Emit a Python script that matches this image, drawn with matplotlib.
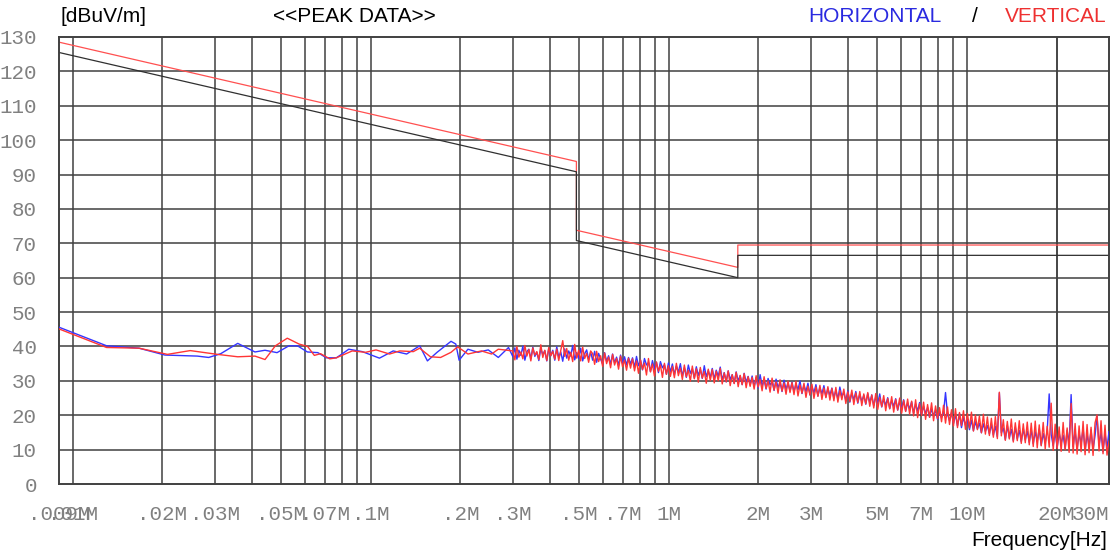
import numpy as np
import matplotlib
matplotlib.use("Agg")
import matplotlib.pyplot as plt
from matplotlib.ticker import FixedLocator, NullLocator

# ---------------- data ----------------
# limit lines (frequency in MHz, level in dBuV/m)
limit_freq = [0.009, 0.49, 0.49, 1.705, 1.705, 30.0]
limit_red = [128.5, 93.8, 73.8, 63.0, 69.5, 69.5]
limit_black = [125.5, 90.8, 70.8, 60.0, 66.5, 66.5]

# low-frequency part of the traces (explicit points)
h_low_freq = [0.009, 0.0130, 0.0167, 0.0204, 0.0262, 0.0286, 0.0314, 0.0358, 0.0409,
              0.0442, 0.0485, 0.0532, 0.0568, 0.0613, 0.0665, 0.0710, 0.0767, 0.0801,
              0.0844, 0.0937, 0.107, 0.119, 0.132, 0.146, 0.155, 0.167, 0.186, 0.193,
              0.198, 0.212, 0.229, 0.248, 0.268, 0.290]
h_low_val = [45.6, 40.2, 39.5, 37.5, 37.2, 36.8, 37.9, 40.9, 38.4,
             38.9, 38.2, 40.2, 40.2, 38.4, 38.2, 36.7, 36.7, 37.8,
             39.2, 38.5, 36.6, 38.7, 37.8, 40.2, 35.8, 38.3, 41.5, 40.7,
             36.0, 39.2, 38.3, 39.0, 36.8, 39.7]

v_low_freq = [0.009, 0.0130, 0.0167, 0.0208, 0.0248, 0.0306, 0.0358, 0.0409, 0.0442,
              0.0479, 0.0525, 0.0575, 0.0614, 0.0647, 0.0679, 0.0729, 0.0767, 0.0867,
              0.0962, 0.1042, 0.1157, 0.1252, 0.139, 0.146, 0.1586, 0.1716, 0.186,
              0.1957, 0.212, 0.2353, 0.2545, 0.268]
v_low_val = [45.1, 39.7, 39.5, 37.7, 38.8, 37.7, 37.0, 37.2, 36.2,
             40.2, 42.4, 40.7, 40.0, 37.4, 37.9, 36.4, 36.7, 38.7,
             38.3, 39.0, 37.8, 38.7, 38.5, 39.5, 37.0, 36.8, 38.3,
             39.9, 37.8, 38.7, 37.8, 39.2]

# dense sweep part 0.3 MHz - 30 MHz (300 points each)
h_dense_val = [
    37.0, 39.6, 36.3, 38.9, 37.4, 40.1, 36.0, 38.5, 39.2, 36.4, 39.8, 37.1, 38.3, 35.9, 39.4, 37.6, 38.8, 35.8, 39.5, 37.3,
    38.9, 36.0, 39.9, 36.8, 38.4, 35.7, 39.3, 36.6, 38.7, 37.2, 40.3, 36.1, 38.2, 36.5, 39.5, 35.8, 37.9, 39.0, 36.2, 38.4,
    36.0, 38.6, 35.4, 38.0, 36.3, 34.9, 38.2, 35.7, 37.3, 34.8, 37.8, 35.2, 36.9, 34.5, 37.5, 35.1, 37.0, 34.6, 36.8, 34.9,
    36.7, 33.9, 37.1, 34.4, 36.0, 33.2, 36.5, 34.6, 35.3, 32.7, 35.9, 33.5, 35.4, 32.4, 35.6, 33.8, 34.7, 31.9, 35.2, 32.6,
    34.9, 31.8, 34.3, 32.5, 35.0, 31.4, 33.8, 31.0, 34.6, 32.2, 33.5, 30.8, 34.1, 31.6, 33.3, 30.7, 34.4, 31.2, 33.0, 30.9,
    33.6, 30.5, 33.1, 31.3, 34.0, 30.2, 32.4, 29.7, 32.9, 30.4, 31.8, 29.3, 32.6, 30.0, 31.5, 28.9, 32.2, 29.6, 31.3, 28.8,
    31.4, 28.3, 30.9, 27.9, 31.8, 28.6, 30.3, 27.6, 30.7, 28.8, 29.9, 27.2, 30.5, 28.0, 29.6, 26.9, 30.2, 27.5, 29.4, 27.0,
    29.6, 26.8, 29.1, 27.4, 30.0, 26.3, 28.7, 26.9, 29.3, 25.9, 28.4, 26.5, 28.9, 25.6, 28.1, 26.2, 28.6, 25.3, 27.8, 25.8,
    27.9, 25.0, 27.3, 24.6, 28.2, 25.4, 26.7, 24.2, 27.1, 23.8, 26.4, 24.5, 26.9, 23.5, 26.1, 24.0, 25.8, 23.2, 26.3, 23.6,
    25.9, 22.8, 25.3, 23.4, 26.2, 22.4, 24.6, 22.9, 25.1, 21.9, 24.3, 22.6, 24.8, 21.5, 23.9, 22.2, 24.5, 21.2, 23.6, 21.8,
    23.9, 20.6, 23.3, 21.2, 23.7, 20.1, 22.6, 20.5, 22.2, 19.4, 21.8, 19.9, 21.4, 18.8, 21.1, 19.3, 20.7, 26.6, 20.3, 18.4,
    20.8, 17.6, 20.2, 16.9, 20.5, 16.4, 19.4, 17.1, 18.9, 15.8, 18.6, 15.5, 18.1, 16.0, 17.7, 14.9, 17.5, 15.3, 17.0, 14.6,
    17.4, 14.2, 16.8, 13.7, 26.5, 14.9, 16.3, 12.9, 17.0, 13.4, 15.9, 12.6, 16.5, 13.1, 15.6, 12.3, 16.1, 12.8, 15.4, 12.1,
    15.8, 11.7, 15.2, 12.4, 16.0, 11.3, 14.7, 12.0, 15.5, 26.2, 14.4, 11.1, 15.1, 10.6, 14.9, 11.8, 14.2, 10.3, 15.6, 11.5,
    26.0, 10.9, 15.3, 10.1, 14.8, 11.6, 16.2, 9.6, 14.5, 10.8, 15.7, 9.9, 14.1, 19.8, 11.2, 15.0, 9.4, 14.6, 10.5, 15.2,
]
v_dense_val = [
    38.7, 36.1, 40.0, 36.9, 38.4, 36.4, 40.3, 37.2, 39.1, 35.8, 39.6, 37.5, 38.5, 36.2, 40.5, 36.8, 38.9, 35.9, 39.7, 37.3,
    38.6, 36.3, 39.2, 35.9, 38.8, 41.7, 37.1, 39.4, 36.0, 38.3, 35.6, 40.6, 36.6, 38.9, 35.8, 39.8, 36.5, 38.0, 35.4, 38.7,
    37.9, 34.8, 38.6, 35.6, 37.3, 34.2, 38.1, 35.0, 36.9, 33.8, 37.7, 34.6, 36.5, 33.4, 37.2, 34.1, 36.0, 33.1, 36.6, 33.7,
    36.4, 32.9, 35.8, 32.2, 36.1, 33.3, 35.2, 31.7, 36.5, 32.6, 34.9, 31.4, 35.5, 32.8, 34.6, 31.0, 35.1, 31.9, 34.4, 31.3,
    34.2, 30.9, 35.1, 31.5, 33.7, 30.4, 34.6, 31.2, 33.1, 29.9, 34.3, 30.6, 33.5, 29.6, 33.9, 30.8, 32.7, 29.3, 33.4, 30.1,
    33.3, 29.4, 32.8, 30.0, 33.6, 29.1, 32.3, 29.7, 32.9, 28.6, 31.8, 29.2, 32.5, 28.3, 31.6, 28.9, 32.1, 28.0, 31.2, 28.4,
    31.0, 27.6, 31.5, 28.2, 30.4, 27.1, 31.2, 27.8, 30.0, 26.7, 30.8, 27.3, 29.7, 26.4, 30.3, 27.0, 29.4, 26.1, 29.9, 26.6,
    29.5, 26.0, 29.9, 25.6, 28.8, 26.4, 29.3, 25.2, 28.5, 25.9, 29.0, 24.9, 28.2, 25.5, 28.7, 24.6, 27.9, 25.1, 28.3, 24.4,
    27.8, 24.2, 28.1, 23.8, 27.2, 24.5, 27.6, 23.4, 26.8, 24.0, 27.3, 23.1, 26.5, 23.7, 26.9, 22.8, 26.2, 23.3, 26.6, 22.6,
    25.9, 22.1, 26.3, 21.7, 25.2, 22.5, 25.7, 21.3, 24.9, 21.9, 25.4, 20.9, 24.6, 21.5, 25.0, 20.6, 24.3, 21.1, 24.7, 20.3,
    24.1, 19.8, 24.5, 19.3, 23.4, 19.9, 23.8, 18.8, 23.1, 19.4, 23.6, 18.4, 22.7, 19.0, 22.2, 18.1, 22.9, 17.7, 22.4, 17.3,
    21.6, 16.9, 21.9, 16.4, 20.8, 17.0, 21.3, 15.9, 20.5, 16.3, 20.9, 15.4, 20.1, 15.8, 19.8, 14.9, 20.3, 14.5, 19.5, 14.1,
    19.1, 13.6, 19.6, 13.2, 26.7, 14.0, 18.7, 12.7, 18.2, 13.1, 18.9, 12.2, 17.8, 12.6, 18.4, 11.8, 17.5, 12.0, 18.0, 11.4,
    17.7, 10.9, 18.3, 10.5, 17.2, 11.1, 17.9, 10.2, 16.8, 10.7, 23.5, 9.8, 17.4, 10.3, 16.6, 9.5, 17.9, 9.9, 16.3, 9.2,
    23.4, 9.0, 17.6, 8.7, 16.9, 9.4, 18.2, 8.5, 17.3, 9.1, 16.5, 8.3, 17.8, 20.1, 9.6, 18.4, 8.8, 17.1, 8.4, 12.5,
]
dense_freq = np.geomspace(0.3, 30.0, len(h_dense_val))

h_freq = np.concatenate([h_low_freq, dense_freq])
h_val = np.concatenate([h_low_val, h_dense_val])
v_freq = np.concatenate([v_low_freq, dense_freq])
v_val = np.concatenate([v_low_val, v_dense_val])

tick_pos = [0.009, 0.01, 0.02, 0.03, 0.05, 0.07, 0.1, 0.2, 0.3, 0.5, 0.7,
            1, 2, 3, 5, 7, 10, 20, 30]
tick_lab = [".009M", ".01M", ".02M", ".03M", ".05M", ".07M", ".1M", ".2M", ".3M",
            ".5M", ".7M", "1M", "2M", "3M", "5M", "7M", "10M", "20M", "30M"]
y_ticks = list(range(0, 131, 10))

# ---------------- figure ----------------
W, H = 1116, 557
fig = plt.figure(figsize=(W / 100, H / 100), dpi=100)
ax = fig.add_axes([59 / W, 1 - 484 / H, (1109 - 59) / W, (484 - 37) / H])
ax.set_xscale("log")
ax.set_xlim(0.009, 30)
ax.set_ylim(0, 130)

grid_col = "#404040"
grid_lines = [m * 10.0 ** e for e in range(-2, 2) for m in range(1, 10)] + [20, 30]
for g in grid_lines:
    if 0.009 < g < 30:
        ax.axvline(g, color=grid_col, lw=1.1, zorder=1)
for yv in y_ticks[1:-1]:
    ax.axhline(yv, color=grid_col, lw=1.1, zorder=1)

ax.plot(limit_freq, limit_red, color="#ff5050", lw=0.9, zorder=2)
ax.plot(limit_freq, limit_black, color="#303030", lw=0.9, zorder=2)

ax.plot(h_freq, h_val, color="#3535ff", lw=1.0, zorder=3)
ax.plot(v_freq, v_val, color="#ff3535", lw=1.0, zorder=4)

for s in ax.spines.values():
    s.set_color("#404040")
    s.set_linewidth(1.4)

ax.xaxis.set_major_locator(FixedLocator(tick_pos))
ax.xaxis.set_minor_locator(NullLocator())
ax.set_xticklabels(tick_lab)
ax.set_yticks(y_ticks)
ax.set_yticklabels([str(v) for v in y_ticks])
ax.tick_params(axis="x", length=0, pad=15, labelsize=15, labelcolor="#808080")
ax.tick_params(axis="y", length=0, pad=16, labelsize=15, labelcolor="#808080")
for lab in ax.get_xticklabels() + ax.get_yticklabels():
    lab.set_family("Liberation Mono")
ax.get_xticklabels()[-1].set_horizontalalignment("right")

tf = dict(family="Liberation Sans", fontsize=15, va="center")
fig.text(60 / W, 1 - 17 / H, "[dBuV/m]", ha="left", color="black", **tf)
fig.text(273 / W, 1 - 17 / H, "<<PEAK DATA>>", ha="left", color="black", **tf)
fig.text(808 / W, 1 - 17 / H, "HORIZONTAL", ha="left", color="#2a2ae0", **tf)
fig.text(975 / W, 1 - 17 / H, "/", ha="center", color="black", **tf)
fig.text(1107 / W, 1 - 17 / H, "VERTICAL", ha="right", color="#ee3030", **tf)
fig.text(1107 / W, 1 - 541 / H, "Frequency[Hz]", ha="right", color="black", **tf)

fig.savefig("out.png", dpi=100)
